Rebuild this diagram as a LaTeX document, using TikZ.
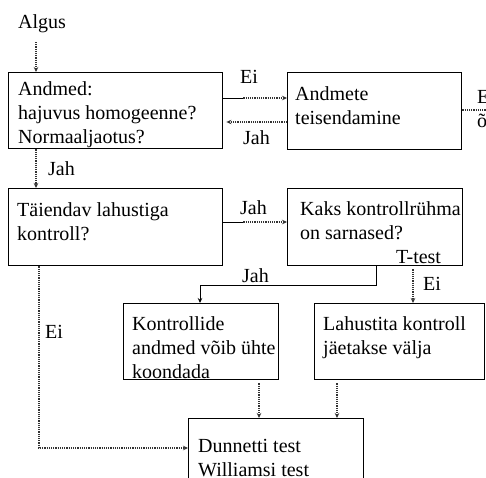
\documentclass[tikz,border=0pt]{standalone}
\usepackage{fontspec}
\setmainfont{Liberation Serif}
\usetikzlibrary{arrows.meta}
% several left-aligned lines whose reference point is the first baseline
\newcommand\lns[1]{\begin{tabular}[t]{@{}l@{}}#1\end{tabular}}
\begin{document}
\begin{tikzpicture}[x=1pt,y=-1pt,
  box/.style={draw, line width=1.4pt, rectangle, anchor=north west, inner sep=0pt},
  txt/.style={anchor=base west, inner sep=0pt, font=\fontsize{20}{24.2}\selectfont},
  flow/.style={draw=black!80, line width=1.2pt, densely dotted, -{Stealth[length=5pt,width=4.5pt]}},
  solidflow/.style={draw=black, line width=0.9pt, -{Stealth[length=5pt,width=4.5pt]}},
  link/.style={draw=black, line width=0.9pt}]
\useasboundingbox (0,0) rectangle (486,477);
\clip (0,0) rectangle (486,477);

% boxes
\node[box, minimum width=214pt, minimum height=76pt] (b1) at (8,72) {};
\node[box, minimum width=174pt, minimum height=77pt] (b2) at (287,72) {};
\node[box, minimum width=214pt, minimum height=77pt] (b3) at (8,188) {};
\node[box, minimum width=175pt, minimum height=77pt] (b4) at (287,188) {};
\node[box, minimum width=155pt, minimum height=76pt] (b5) at (123,303) {};
\node[box, minimum width=170pt, minimum height=76pt] (b6) at (314,303) {};
\node[box, minimum width=175pt, minimum height=80pt] (b7) at (188,418) {};

% box texts
\node[txt] (algus) at (18,28) {Algus};
\node[txt] (t1) at (18,95) {\lns{Andmed:\\hajuvus homogeenne?\\Normaaljaotus?}};
\node[txt] (t2) at (295,100) {\lns{Andmete\\teisendamine}};
\node[txt] (t3) at (17,216) {\lns{Täiendav lahustiga\\kontroll?}};
\node[txt] (t4) at (300,215) {\lns{Kaks kontrollrühma\\on sarnased?}};
\node[txt] (ttest) at (396,263) {T-test};
\node[txt] (t5) at (132,330) {\lns{Kontrollide\\andmed võib ühte\\koondada}};
\node[txt] (t6) at (323,330) {\lns{Lahustita kontroll\\jäetakse välja}};
\node[txt] (t7) at (198,452) {\lns{Dunnetti test\\Williamsi test}};

% connector labels
\node[txt] (ei1) at (240,83) {Ei};
\node[txt] (jah1) at (243,144) {Jah};
\node[txt] (eR) at (477,103) {E};
\node[txt] (oR) at (477,127) {õ};
\node[txt] (jah2) at (48,175) {Jah};
\node[txt] (jah3) at (240,214) {Jah};
\node[txt] (jah4) at (242,282) {Jah};
\node[txt] (ei2) at (423,290) {Ei};
\node[txt] (ei3) at (45,338) {Ei};

% connectors
\draw[flow] ([xshift=28pt,yshift=30pt]b1.north west) -- ([xshift=28pt]b1.north west);
\draw[link] ([yshift=-26pt]b1.north east) -- ++(20,0) coordinate (e1);
\draw[flow] (e1) -- (e1 -| b2.west);
\draw[flow] ([yshift=-50pt]b2.north west) -- ([yshift=-50pt,xshift=3pt]b1.north east);
\draw[draw=black!80, line width=1.2pt, densely dotted] ([yshift=-38pt]b2.north east) -- ++(30,0) coordinate (e0);
\draw[flow] ([xshift=28pt]b1.south west) -- ([xshift=28pt]b3.north west);
\draw[link] ([yshift=-34pt]b3.north east) -- ++(20,0) coordinate (e2);
\draw[flow] (e2) -- (e2 -| b4.west);
\draw[solidflow] ([xshift=89pt]b4.south west) -- ++(0,19) -| ([xshift=77pt]b5.north west);
\draw[flow] ([xshift=126pt,yshift=-3pt]b4.south west) -- ([xshift=126pt]b4.south west |- b6.north);
\draw[flow] ([xshift=31pt]b3.south west) |- ([yshift=-30pt]b7.north west);
\draw[flow] ([xshift=136pt,yshift=-3pt]b5.south west) -- ([xshift=136pt]b5.south west |- b7.north);
\draw[flow] ([xshift=23pt,yshift=-3pt]b6.south west) -- ([xshift=23pt]b6.south west |- b7.north);
\end{tikzpicture}
\end{document}
